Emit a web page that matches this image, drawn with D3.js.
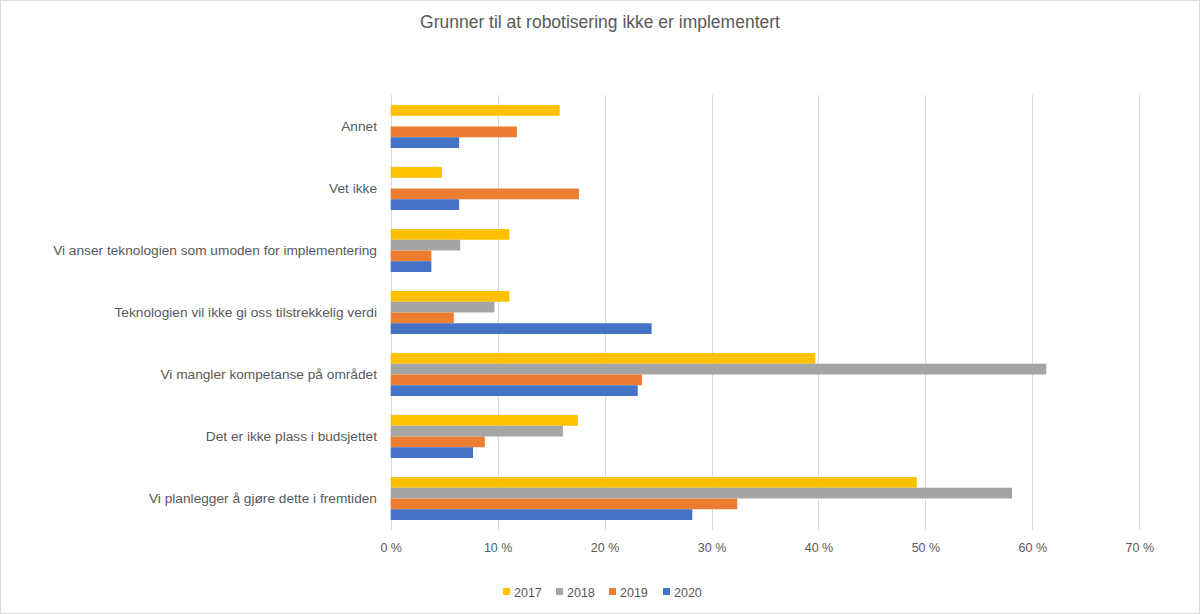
<!DOCTYPE html>
<html><head><meta charset="utf-8">
<script src="https://cdn.jsdelivr.net/npm/d3@7"></script>
<style>html,body{margin:0;padding:0;background:#fff}svg{display:block}text{font-family:"Liberation Sans",Arial,sans-serif;fill:#595959}</style>
</head><body>
<script>
const categories = ["Annet","Vet ikke","Vi anser teknologien som umoden for implementering","Teknologien vil ikke gi oss tilstrekkelig verdi","Vi mangler kompetanse på området","Det er ikke plass i budsjettet","Vi planlegger å gjøre dette i fremtiden"];
const seriesNames = ["2017","2018","2019","2020"];
const v2017 = [15.8, 4.8, 11.1, 11.1, 39.7, 17.5, 49.2];
const v2018 = [null, null, 6.5, 9.7, 61.3, 16.1, 58.1];
const v2019 = [11.8, 17.6, 3.8, 5.9, 23.5, 8.8, 32.4];
const v2020 = [6.4, 6.4, 3.8, 24.4, 23.1, 7.7, 28.2];
const colors = ["#FFC000","#A5A5A5","#ED7D31","#4472C4"];
const ticks = [0,10,20,30,40,50,60,70];
const title = "Grunner til at robotisering ikke er implementert";

const W=1200,H=614;
const svg=d3.select("body").append("svg").attr("width",W).attr("height",H);
svg.append("rect").attr("x",0.5).attr("y",0.5).attr("width",W-1).attr("height",H-1).attr("fill","#fff").attr("stroke","#D9D9D9");

const x=d3.scaleLinear().domain([0,70]).range([390.7,1139.3]);
const y=d3.scaleBand().domain(categories).range([95.5,529.5]).paddingInner(0.306).paddingOuter(0.153);
const ys=d3.scaleBand().domain(seriesNames).range([0,y.bandwidth()]);

svg.append("text").attr("x",600).attr("y",28).attr("text-anchor","middle").attr("font-size",17.5).text(title);

// gridlines
svg.append("g").selectAll("line").data(ticks).join("line")
  .attr("x1",d=>Math.round(x(d))+0.5).attr("x2",d=>Math.round(x(d))+0.5)
  .attr("y1",95).attr("y2",530).attr("stroke","#D9D9D9").attr("stroke-width",1);

const all=[v2017,v2018,v2019,v2020];
seriesNames.forEach((s,i)=>{
  svg.append("g").selectAll("rect").data(categories.map((c,j)=>({c,v:all[i][j]})).filter(d=>d.v!=null)).join("rect")
    .attr("x",x(0)).attr("y",d=>y(d.c)+ys(s)).attr("height",ys.bandwidth())
    .attr("width",d=>x(d.v)-x(0)).attr("fill",colors[i]);
});

// category labels
svg.append("g").selectAll("text").data(categories).join("text")
  .attr("x",377).attr("y",d=>y(d)+y.bandwidth()/2).attr("dy","0.35em").attr("text-anchor","end").attr("font-size",13.7).text(d=>d);

// x ticks
const xa=d3.axisBottom(x).tickValues(ticks).tickFormat(d=>d+" %").tickSize(0).tickPadding(0);
const gx=svg.append("g").attr("transform","translate(0,543)").call(xa);
gx.select(".domain").remove();
gx.selectAll("text").attr("font-size",12.5).attr("fill","#595959").attr("font-family","Liberation Sans, Arial, sans-serif");

// legend
const lx=[503,556,609,663];
const lg=svg.append("g");
seriesNames.forEach((s,i)=>{
  lg.append("rect").attr("x",lx[i]).attr("y",588).attr("width",7).attr("height",7).attr("fill",colors[i]);
  lg.append("text").attr("x",lx[i]+11).attr("y",592.5).attr("dy","0.35em").attr("font-size",12.5).text(s);
});
</script>
</body></html>
